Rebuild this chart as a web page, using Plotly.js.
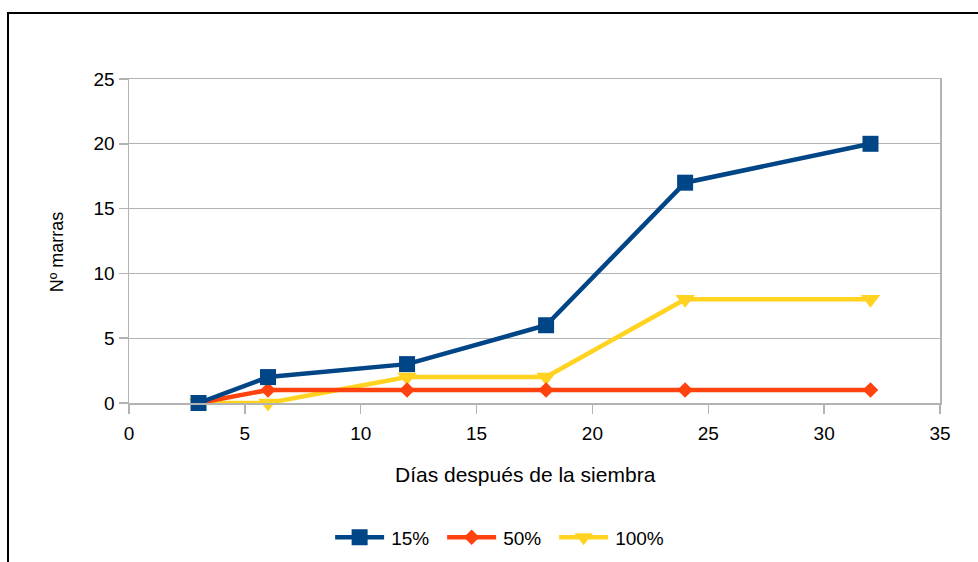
<!DOCTYPE html>
<html>
<head>
<meta charset="utf-8">
<script src="https://cdn.plot.ly/plotly-3.0.1.min.js"></script>
<style>
html,body{margin:0;padding:0;background:#fff;}
#chart{width:978px;height:562px;}
</style>
</head>
<body>
<div id="chart"></div>
<script>
// Data
var dias = [3, 6, 12, 18, 24, 32];
var serie15 = [0, 2, 3, 6, 17, 20];
var serie50 = [0, 1, 1, 1, 1, 1];
var serie100 = [0, 0, 2, 2, 8, 8];
var nombres = ['15%', '50%', '100%'];
var xTitulo = 'Días después de la siembra';
var yTitulo = 'Nº marras';

var font = 'Liberation Sans, Arial, sans-serif';

var traces = [
  {x: dias, y: serie100, name: nombres[2], mode: 'lines+markers', cliponaxis: false,
   line: {color: '#ffd320', width: 4.5},
   marker: {symbol: 'triangle-down', size: 17, color: '#ffd320'}},
  {x: dias, y: serie50, name: nombres[1], mode: 'lines+markers', cliponaxis: false,
   line: {color: '#ff420e', width: 4.5},
   marker: {symbol: 'diamond', size: 12, color: '#ff420e'}},
  {x: dias, y: serie15, name: nombres[0], mode: 'lines+markers', cliponaxis: false,
   line: {color: '#004586', width: 4.5},
   marker: {symbol: 'square', size: 16, color: '#004586'}}
];

var layout = {
  width: 978, height: 562,
  margin: {l: 129, r: 38, t: 79, b: 159, autoexpand: false},
  paper_bgcolor: '#fff', plot_bgcolor: '#fff',
  font: {family: font, size: 19, color: '#000'},
  showlegend: true,
  legend: {orientation: 'h', traceorder: 'reversed', x: 0.248, xanchor: 'left',
           y: -0.415, yanchor: 'middle', font: {size: 19},
           itemwidth: 51, entrywidth: 46, entrywidthmode: 'pixels'},
  xaxis: {
    range: [0, 35], dtick: 5, tick0: 0, showgrid: false, zeroline: false, automargin: false,
    showline: true, linecolor: '#b3b3b3', linewidth: 1.5, mirror: true,
    ticks: 'outside', ticklen: 9, tickcolor: '#b3b3b3', tickwidth: 1.5,
    ticklabelstandoff: 4
  },
  yaxis: {
    range: [0, 25], dtick: 5, tick0: 0, showgrid: true, gridcolor: '#b3b3b3', gridwidth: 1,
    zeroline: false, showline: true, linecolor: '#b3b3b3', linewidth: 1.5, mirror: true, automargin: false,
    ticks: 'outside', ticklen: 9, tickcolor: '#b3b3b3', tickwidth: 1.5
  },
  annotations: [
    {text: xTitulo, xref: 'paper', yref: 'paper', x: 0.4895, y: -0.2222,
     xanchor: 'center', yanchor: 'middle', showarrow: false, font: {size: 21}},
    {text: yTitulo, xref: 'paper', yref: 'paper', x: -0.0888, y: 0.468,
     xanchor: 'center', yanchor: 'middle', textangle: -90, showarrow: false, font: {size: 18}}
  ],
  shapes: [
    {type: 'path', xref: 'paper', yref: 'paper',
     path: 'M -0.1492 -0.7 L -0.1492 1.2037 L 1.1 1.2037',
     line: {color: '#000', width: 2}}
  ]
};

Plotly.newPlot('chart', traces, layout, {displayModeBar: false, staticPlot: true}).then(function (gd) {
  // lengthen legend sample lines to match the reference
  var items = gd.querySelectorAll('.legend .traces');
  items.forEach(function (it) {
    it.querySelectorAll('.legendlines path').forEach(function (p) { p.setAttribute('d', 'M5,0h49'); });
    it.querySelectorAll('.legendpoints path').forEach(function (p) { p.setAttribute('transform', 'translate(29.5,0)'); });
  });
});
</script>
</body>
</html>
